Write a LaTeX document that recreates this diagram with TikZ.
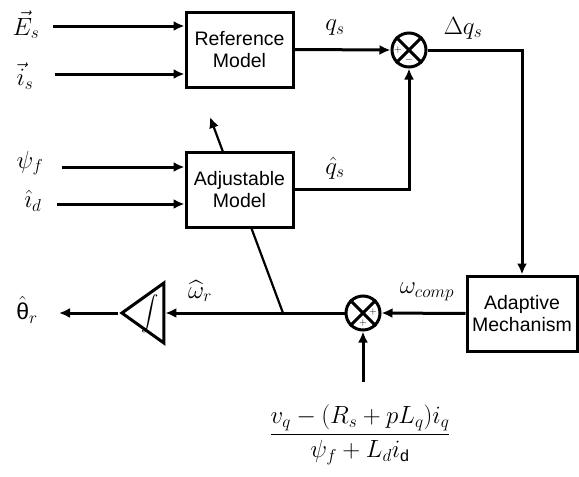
\documentclass[tikz,border=0pt]{standalone}
\usepackage{amsmath}
\usepackage{fontspec}
\setmainfont{Liberation Sans}
\usetikzlibrary{arrows.meta,shapes.geometric}

\begin{document}
\begin{tikzpicture}[x=1pt, y=-1pt]
	\tikzstyle{arrow}=[draw, line width=3pt, -{Latex[length=11pt, width=10pt]}]
	\tikzstyle{block}=[draw, line width=3pt, fill=white, minimum width=107pt, minimum height=75pt, align=center, font=\fontsize{19.5}{21.5}\selectfont]
	\tikzstyle{sum}=[draw, circle, line width=3pt, minimum size=34pt, inner sep=0pt]
	\tikzstyle{lbl}=[font=\fontsize{23}{26}\selectfont, inner sep=0pt]
	\tikzstyle{sign}=[font=\fontsize{10}{10}\selectfont, inner sep=0pt]

	\useasboundingbox (0,0) rectangle (579,477);

	% parameter arrow through the adjustable model
	\coordinate (jn) at (283,313);
	\coordinate (tip) at (210,117);
	\path [draw, line width=2.2pt, -{Latex[length=11pt, width=10pt]}] (jn) -- (tip);

	% blocks
	\node [block] at (239.5,49.5) (ref) {Reference\\Model};
	\node [block] at (239.5,189.5) (adj) {Adjustable\\Model};
	\node [block, minimum width=110pt] at (522,313.5) (adapt) {Adaptive\\Mechanism};
	\node [sum] at (409,50) (sum1) {};
	\node [sum] at (363,313) (sum2) {};
	\node [draw, line width=3pt, isosceles triangle, shape border rotate=180, isosceles triangle stretches, minimum width=60pt, minimum height=42pt, inner sep=0pt, anchor=apex] at (118,313) (intg) {};
	\node [lbl, font=\fontsize{18}{20}\selectfont] at (150,314) (intsym) {$\displaystyle\int$};

	\foreach \s in {sum1, sum2}
	{
		\draw [line width=3pt] (\s.north west) -- (\s.south east);
		\draw [line width=3pt] (\s.north east) -- (\s.south west);
	}
	\node [sign] at (398,50) (p1) {$+$};
	\node [sign] at (409,60) (m1) {$-$};
	\node [sign] at (373,312) (p2) {$+$};
	\node [sign] at (363,323) (p3) {$+$};

	% labels
	\node [lbl] at (26,25) (Es) {$\vec{E}_s$};
	\node [lbl] at (25,76) (is) {$\vec{i}_s$};
	\node [lbl] at (30,163) (psi) {$\psi_f$};
	\node [lbl] at (33,201) (id) {$\hat{\imath}_d$};
	\node [lbl] at (27,310) (theta) {$\hat{\text{θ}}_r$};
	\node [lbl] at (200,291) (wr) {$\widehat{\omega}_r$};
	\node [lbl] at (335,28) (qs) {$q_s$};
	\node [lbl] at (463,28) (dqs) {$\Delta q_s$};
	\node [lbl] at (335,168) (qhs) {$\hat{q}_s$};
	\node [lbl] at (427,292) (wc) {$\omega_{comp}$};
	\node [lbl] at (360,435) (frac) {$\dfrac{v_q-(R_s+pL_q)i_q}{\psi_f+L_d i_{\mathrm{d}}}$};

	% free ends
	\coordinate (Ein) at (53,26);
	\coordinate (iin) at (55,74);
	\coordinate (psin) at (62,167);
	\coordinate (idin) at (57,204);
	\coordinate (thout) at (59,313);
	\coordinate (fin) at (363,382);
	\coordinate (cr) at (522,50);

	% connectors
	\path [arrow] (Ein) -- (ref.west |- Ein);
	\path [arrow] (iin) -- (ref.west |- iin);
	\path [arrow] (psin) -- (adj.west |- psin);
	\path [arrow] (idin) -- (adj.west |- idin);
	\path [arrow] (ref.east) -- (sum1.west);
	\path [arrow] (adj.east) -| (sum1.south);
	\path [arrow] (sum1.east) -- (cr) -- (adapt.north);
	\path [arrow] (adapt.west) -- (sum2.east);
	\path [arrow] (fin) -- (sum2.south);
	\path [arrow] (sum2.west) -- (intg.lower side);
	\path [arrow] (intg.apex) -- (thout);
\end{tikzpicture}
\end{document}
